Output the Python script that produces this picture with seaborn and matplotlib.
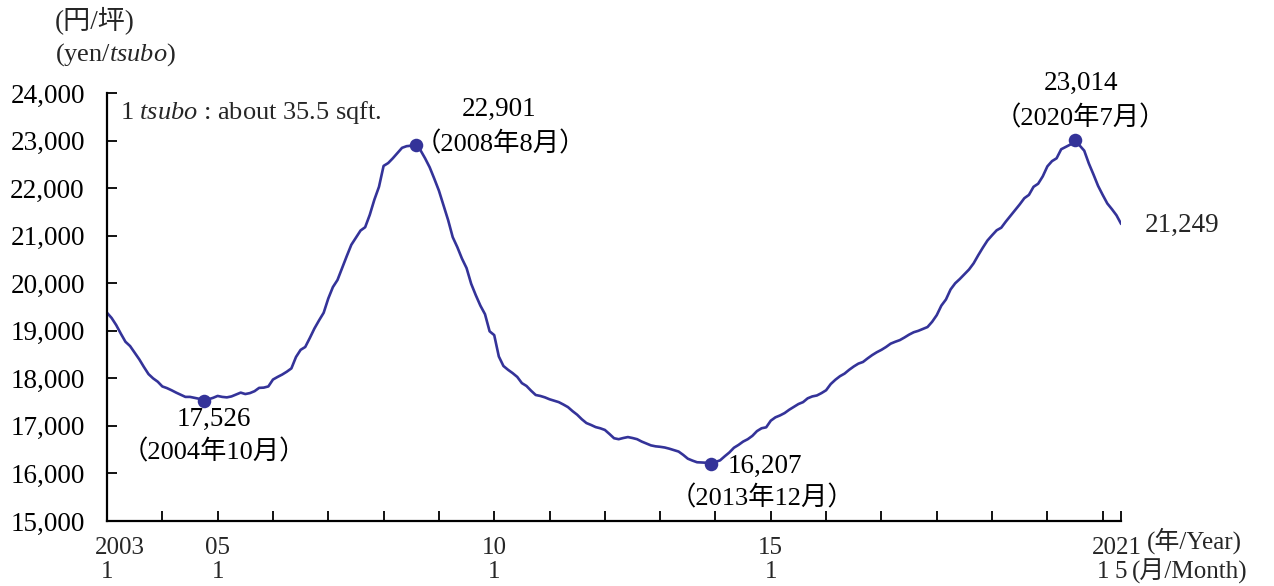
import numpy as np
import pandas as pd
import matplotlib
matplotlib.use("Agg")
import matplotlib.pyplot as plt
import matplotlib.transforms as mtrans
import seaborn as sns

# ── data: monthly price (yen/tsubo), 2003-01 .. 2021-05 ──────────────────────
start = "2003-01"
values = [
    19380, 19270, 19120, 18940, 18770, 18680, 18540, 18400, 18240, 18090, 18000, 17930,  # 2003
    17830, 17795, 17750, 17700, 17655, 17610, 17610, 17590, 17570, 17526, 17560, 17590,  # 2004
    17630, 17610, 17600, 17620, 17660, 17700, 17670, 17690, 17730, 17800, 17805, 17830,  # 2005
    17975, 18030, 18080, 18140, 18210, 18450, 18600, 18660, 18850, 19050, 19220, 19380,  # 2006
    19680, 19920, 20070, 20320, 20570, 20810, 20960, 21110, 21180, 21440, 21760, 22030,  # 2007
    22470, 22530, 22630, 22740, 22850, 22885, 22895, 22901, 22800, 22630, 22440, 22200,  # 2008
    21950, 21640, 21330, 20970, 20760, 20520, 20320, 19990, 19750, 19530, 19350, 18990,  # 2009
    18910, 18460, 18260, 18180, 18110, 18030, 17900, 17840, 17740, 17650, 17630, 17600,  # 2010
    17560, 17530, 17500, 17450, 17395, 17310, 17235, 17140, 17060, 17020, 16975, 16950,  # 2011
    16915, 16830, 16740, 16720, 16745, 16765, 16745, 16720, 16670, 16630, 16590, 16570,  # 2012
    16560, 16545, 16520, 16490, 16460, 16390, 16310, 16270, 16235, 16230, 16225, 16207,  # 2013
    16240, 16275, 16360, 16440, 16540, 16600, 16670, 16720, 16790, 16890, 16950, 16970,  # 2014
    17110, 17180, 17220, 17270, 17340, 17400, 17460, 17500, 17580, 17620, 17640, 17690,  # 2015
    17750, 17880, 17970, 18045, 18100, 18180, 18250, 18310, 18345, 18420, 18490, 18550,  # 2016
    18600, 18660, 18730, 18770, 18805, 18860, 18920, 18970, 19000, 19040, 19080, 19190,  # 2017
    19330, 19530, 19660, 19870, 20000, 20090, 20190, 20290, 20420, 20590, 20750, 20900,  # 2018
    21010, 21115, 21170, 21300, 21420, 21540, 21660, 21790, 21860, 22030, 22095, 22250,  # 2019
    22460, 22570, 22630, 22820, 22870, 22920, 23014, 22900, 22790, 22520, 22290, 22050,  # 2020
    21860, 21680, 21560, 21430, 21249,                                                   # 2021
]
dates = pd.period_range(start, periods=len(values), freq="M")
df = pd.DataFrame({"t": np.arange(len(values)), "price": values})

# highlighted points
mark_idx = [21, 67, 131, 210]
mark_val = ["17,526", "22,901", "16,207", "23,014"]
mark_when = ["（2004年10月）", "（2008年8月）", "（2013年12月）", "（2020年7月）"]
last_label = "21,249"

# x axis labels: (month index, year text, month text)
year_labels = [(2.8, "2003"), (24, "05"), (84, "10"), (144, "15"), (219, "2021")]
month_labels = [(0, "1"), (24, "1"), (84, "1"), (144, "1"), (216, "1"), (220, "5")]

# ── plot ─────────────────────────────────────────────────────────────────────
sns.set_theme(style="white")
plt.rcParams["font.family"] = ["Liberation Serif", "Noto Sans CJK JP"]
plt.rcParams["mathtext.fontset"] = "custom"
plt.rcParams["mathtext.rm"] = "Liberation Serif"
plt.rcParams["mathtext.it"] = "Liberation Serif:italic"

LINE = "#343399"
FS = 19

fig = plt.figure(figsize=(12.74, 5.86), dpi=100)
ax = fig.add_axes([0.084, 0.111, 0.796, 0.730])

sns.lineplot(data=df, x="t", y="price", color=LINE, lw=1.9, ax=ax)
pts = df.iloc[mark_idx]
sns.scatterplot(data=pts, x="t", y="price", color=LINE, s=95, edgecolor=LINE,
                linewidth=0, zorder=5, ax=ax)

ax.set_xlim(0, len(values) - 1)
ax.set_ylim(15000, 24000)
ax.set_yticks(np.arange(15000, 24001, 1000))
ax.set_yticklabels([f"{v:,}" for v in range(15000, 24001, 1000)], fontsize=FS + 0.5)

xt = list(range(0, len(values), 12)) + [len(values) - 1]
ax.set_xticks(xt)
ax.set_xticklabels([])
ax.set_xlabel("")
ax.set_ylabel("")

for s in ["top", "right"]:
    ax.spines[s].set_visible(False)
for s in ["left", "bottom"]:
    ax.spines[s].set_color("black")
    ax.spines[s].set_linewidth(1.6)
ax.tick_params(axis="both", direction="in", length=7, width=1.3, color="black",
               labelcolor="black")
ax.tick_params(axis="y", pad=16, left=True)
ax.tick_params(axis="x", bottom=True)

trans = mtrans.blended_transform_factory(ax.transData, ax.transAxes)
for x, txt in year_labels:
    ax.text(x, -0.063, txt, transform=trans, ha="center", va="center", fontsize=FS - 1)
for x, txt in month_labels:
    ax.text(x, -0.119, txt, transform=trans, ha="center", va="center", fontsize=FS - 1)

# annotations around highlighted points (offsets in points)
offs = [((7, -13), (7, -37)), ((60, 26), (61, 1)), ((12, -2), (37, -25)), ((4, 41), (4, 16))]
for i, (idx, v, w) in enumerate(zip(mark_idx, mark_val, mark_when)):
    y = values[idx]
    (dx1, dy1), (dx2, dy2) = offs[i]
    ha1 = "left" if i == 2 else "center"
    ax.annotate(v, (idx, y), xytext=(dx1, dy1), textcoords="offset points",
                ha=ha1, va="center", fontsize=FS + 0.5, color="black")
    ax.annotate(w, (idx, y), xytext=(dx2, dy2), textcoords="offset points",
                ha="center", va="center", fontsize=FS, color="black")
ax.annotate(last_label, (len(values) - 1, values[-1]), xytext=(17, -1),
            textcoords="offset points", ha="left", va="center", fontsize=FS + 0.5)

# unit note inside plot
ax.text(0.013, 0.955, "$\\mathit{1\\ tsubo}$ : about 35.5 sqft.", transform=ax.transAxes,
        fontsize=FS, ha="left", va="center")

# axis unit labels
fig.text(55 / 1274, 1 - 20 / 586, "(円/坪)", fontsize=FS + 0.5, ha="left", va="center")
fig.text(55 / 1274, 1 - 55 / 586, "(yen/$\\mathit{tsubo}$)", fontsize=FS, ha="left", va="center")
fig.text(1147 / 1274, 1 - 541 / 586, "(年/Year)", fontsize=FS - 1, ha="left", va="center")
fig.text(1132 / 1274, 1 - 571 / 586, "(月/Month)", fontsize=FS - 1, ha="left", va="center")

plt.savefig("out.png", dpi=100)
plt.close()
